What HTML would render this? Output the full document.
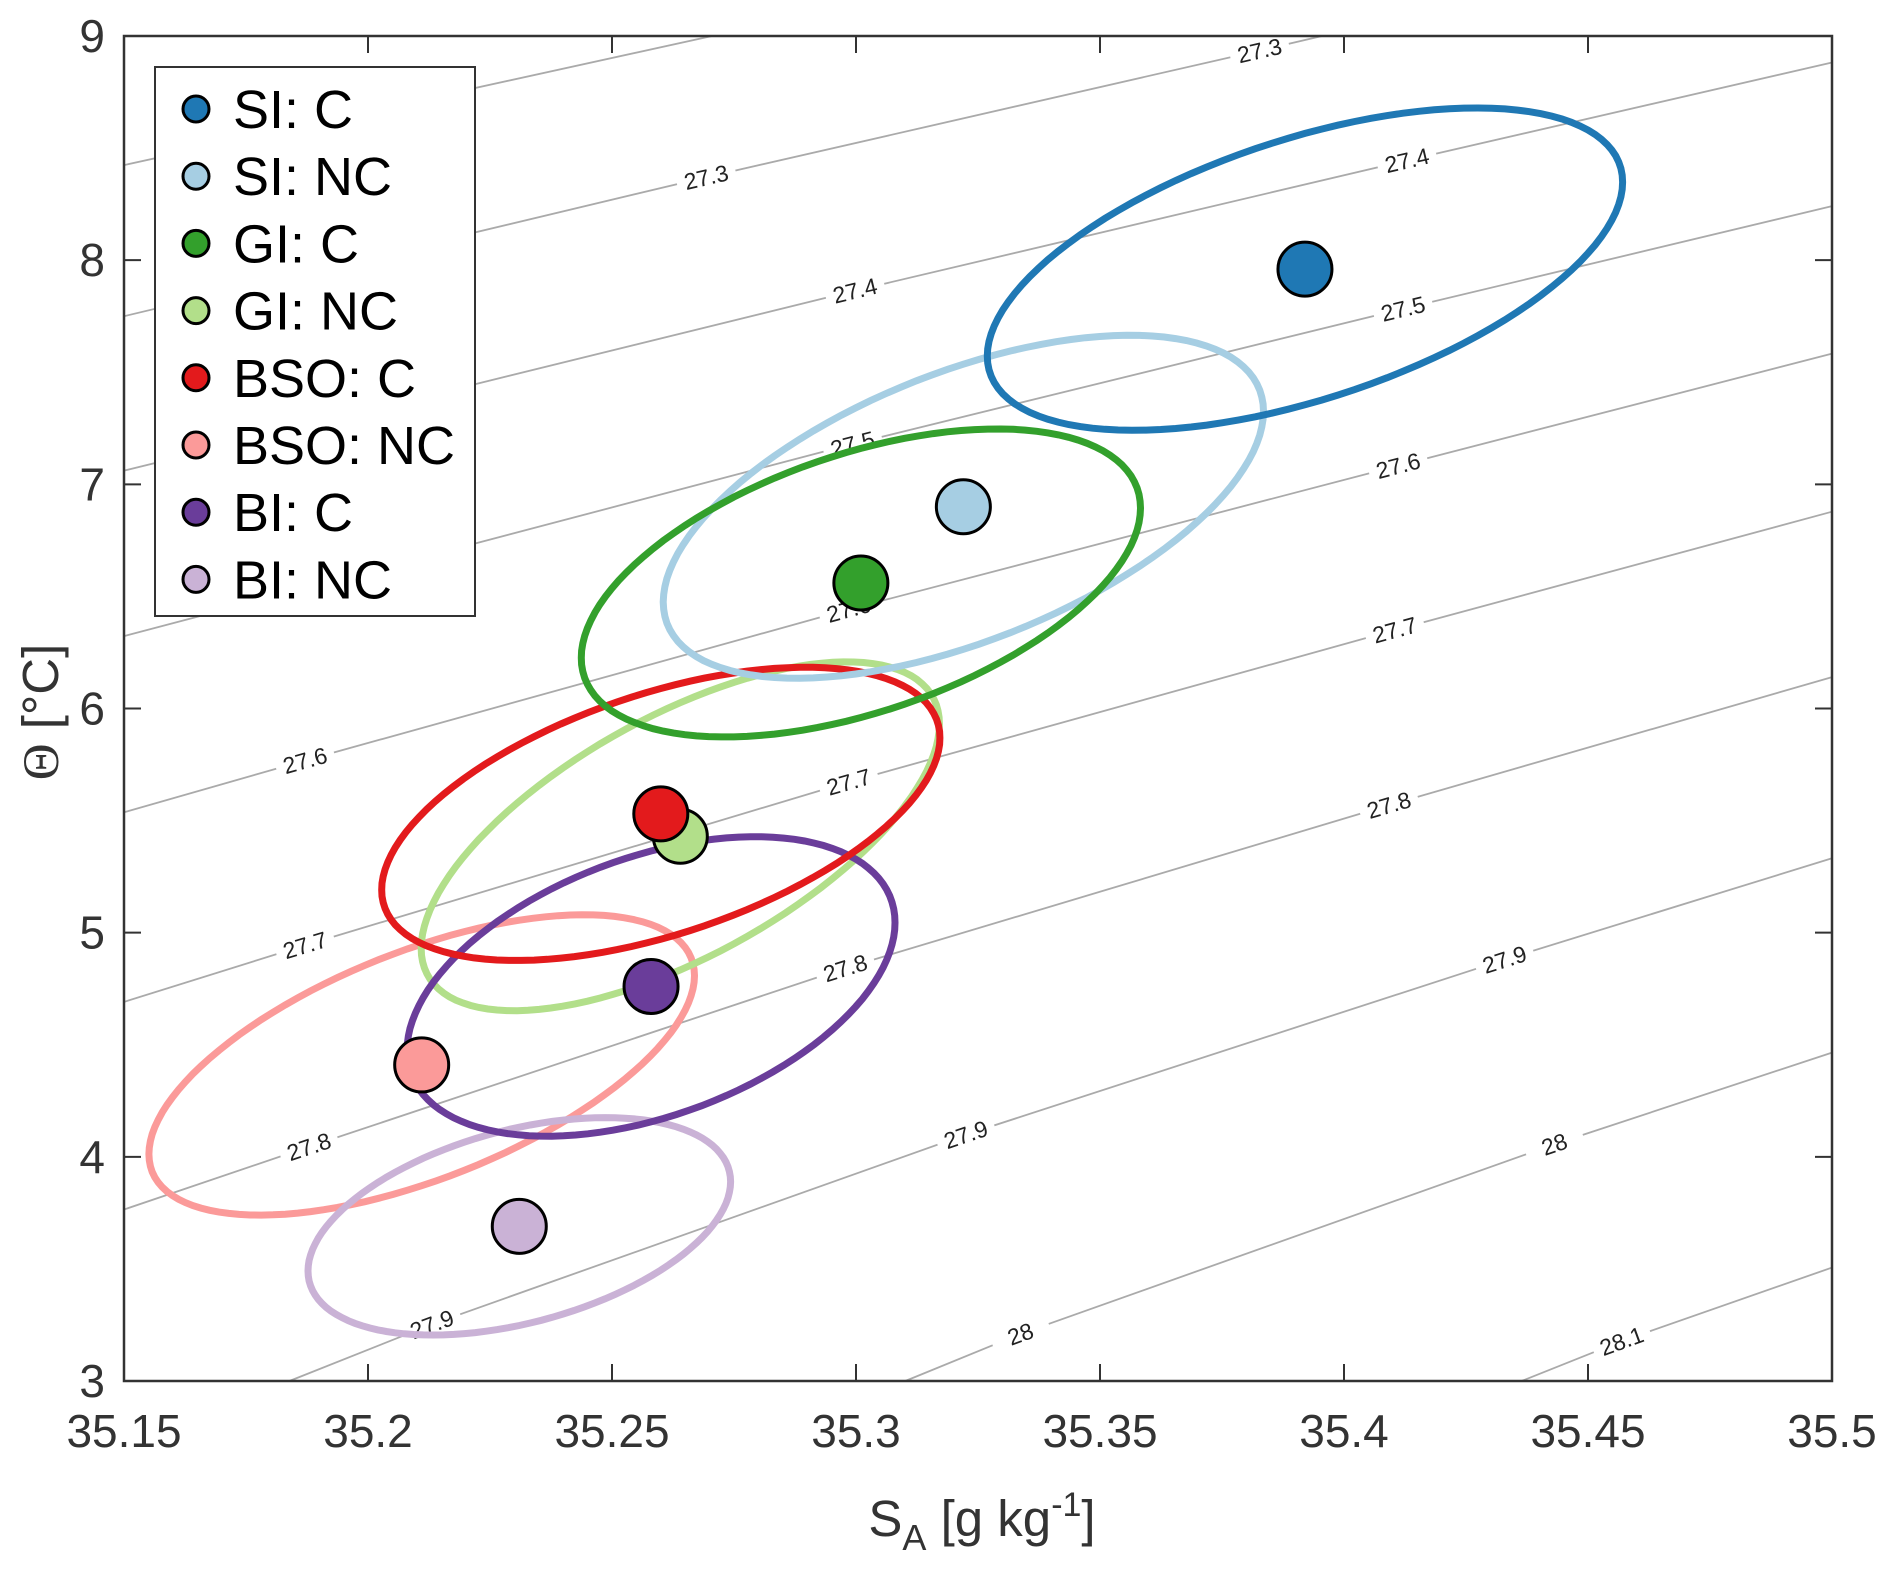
<!DOCTYPE html>
<html><head><meta charset="utf-8"><style>
html,body{margin:0;padding:0;background:#fff;}
svg{display:block;font-family:"Liberation Sans",sans-serif;}
</style></head><body>
<svg id="chart" width="1892" height="1569" viewBox="0 0 1892 1569" xmlns="http://www.w3.org/2000/svg">
<g id="contours"></g>
<g id="ellipses"></g>
<g id="points"></g>
<g id="axes"></g>
<text x="982" y="1536" font-size="51" fill="#333" text-anchor="middle">S<tspan font-size="36" dy="14">A</tspan><tspan dy="-14"> [g kg</tspan><tspan font-size="34" dy="-20">-1</tspan><tspan dy="20">]</tspan></text>
<text transform="translate(58,712) rotate(-90)" font-size="51" fill="#333" text-anchor="middle"><tspan font-family="Liberation Serif, serif">Θ</tspan> [°C]</text>
<g id="legend"></g>
</svg>
<script>
const categories = ["SI: C","SI: NC","GI: C","GI: NC","BSO: C","BSO: NC","BI: C","BI: NC"];
const colors = ["#1f78b4","#a6cee3","#33a02c","#b2df8a","#e31a1c","#fb9a99","#6a3d9a","#cab2d6"];
const salinity = [35.392,35.322,35.301,35.264,35.260,35.211,35.258,35.231];
const theta = [7.96,6.90,6.56,5.43,5.53,4.41,4.76,3.69];
const ellHalfWidth = [0.0651,0.0615,0.0573,0.0531,0.0572,0.0559,0.0500,0.0433];
const ellTiltOffset = [0.388,0.425,0.334,0.500,0.339,0.398,0.285,0.199];
const ellHalfHeight = [0.719,0.765,0.687,0.778,0.654,0.670,0.668,0.485];
const drawOrder = [5,7,3,6,4,1,2,0];
const contourLevels = ["27.2","27.3","27.4","27.5","27.6","27.7","27.8","27.9","28","28.1"];
const contourS = [
 [35.15,35.2705],
 [35.15,35.2693,35.3827,35.3955],
 [35.15,35.2998,35.4129,35.5],
 [35.15,35.2993,35.4121,35.5],
 [35.15,35.1871,35.2985,35.4111,35.5],
 [35.15,35.1871,35.2985,35.4104,35.5],
 [35.15,35.1879,35.2978,35.4092,35.5],
 [35.1839,35.2131,35.3225,35.4329,35.5],
 [35.3101,35.3337,35.4431,35.5],
 [35.4364,35.4569,35.5]];
const contourT = [
 [8.424,9.0],
 [7.75,8.37,8.935,9.0],
 [7.061,7.864,8.445,8.882],
 [6.323,7.18,7.783,8.241],
 [5.537,5.768,6.442,7.083,7.583],
 [4.691,4.944,5.672,6.35,6.878],
 [3.765,4.045,4.842,5.569,6.14],
 [3.0,3.253,4.099,4.88,5.332],
 [3.0,3.21,4.056,4.465],
 [3.0,3.178,3.506]];
const xTicks = [35.15,35.2,35.25,35.3,35.35,35.4,35.45,35.5];
const xTickLabels = ["35.15","35.2","35.25","35.3","35.35","35.4","35.45","35.5"];
const yTicks = [3,4,5,6,7,8,9];
const yTickLabels = ["3","4","5","6","7","8","9"];

const L=124,R=1832,T=36,B=1381;
const xMin=35.15,xMax=35.5,yMin=3,yMax=9;
const sx=v=>L+(v-xMin)/(xMax-xMin)*(R-L);
const sy=v=>B-(v-yMin)/(yMax-yMin)*(B-T);
const NS="http://www.w3.org/2000/svg";
function mk(tag,attrs,parent){const e=document.createElementNS(NS,tag);for(const k in attrs)e.setAttribute(k,attrs[k]);parent.appendChild(e);return e;}

const cg=document.getElementById('contours');
contourLevels.forEach((lev,i)=>{
  const pts=contourS[i].map((s,j)=>[sx(s),sy(contourT[i][j])]);
  const line=mk('polyline',{points:pts.map(p=>p.join(',')).join(' '),fill:'none',stroke:'#aaa','stroke-width':1.8},cg);
  
  
  for(let j=1;j<pts.length-1;j++){
    const a=pts[j-1],b=pts[j+1];
    const ang=Math.atan2(b[1]-a[1],b[0]-a[0])*180/Math.PI;
    const g=mk('g',{transform:`translate(${pts[j][0]},${pts[j][1]}) rotate(${ang})`},cg);
    mk('rect',{x:-30,y:-14,width:60,height:28,fill:'#fff'},g);
    const t=mk('text',{x:0,y:8,'font-size':23,fill:'#222','text-anchor':'middle'},g);
    t.textContent=lev;
    
    
  }
});

const eg=document.getElementById('ellipses');
drawOrder.forEach(i=>{
  const v=Math.sqrt(Math.max(ellHalfHeight[i]**2-ellTiltOffset[i]**2,0));
  let d='';
  for(let k=0;k<=120;k++){
    const t=k/120*2*Math.PI;
    const xs=salinity[i]+ellHalfWidth[i]*Math.cos(t);
    const ys=theta[i]+ellTiltOffset[i]*Math.cos(t)+v*Math.sin(t);
    d+=(k?'L':'M')+sx(xs).toFixed(1)+','+sy(ys).toFixed(1);
  }
  const p=mk('path',{d:d+'Z',fill:'none',stroke:colors[i],'stroke-width':7},eg);
  
  
});

const pg=document.getElementById('points');
drawOrder.forEach(i=>{
  const c=mk('circle',{cx:sx(salinity[i]),cy:sy(theta[i]),r:27,fill:colors[i],stroke:'#000','stroke-width':3},pg);
  
  
});

const ag=document.getElementById('axes');
const box=mk('rect',{x:L,y:T,width:R-L,height:B-T,fill:'none',stroke:'#333','stroke-width':2.5},ag);


xTicks.forEach((v,i)=>{
  const x=sx(v);
  mk('line',{x1:x,y1:B,x2:x,y2:B-17,stroke:'#333','stroke-width':2},ag);
  mk('line',{x1:x,y1:T,x2:x,y2:T+17,stroke:'#333','stroke-width':2},ag);
  const t=mk('text',{x:x,y:1447,'font-size':46,fill:'#333','text-anchor':'middle'},ag);
  t.textContent=xTickLabels[i];
  
  
});
yTicks.forEach((v,i)=>{
  const y=sy(v);
  mk('line',{x1:L,y1:y,x2:L+17,y2:y,stroke:'#333','stroke-width':2},ag);
  mk('line',{x1:R,y1:y,x2:R-17,y2:y,stroke:'#333','stroke-width':2},ag);
  const t=mk('text',{x:105,y:y+16,'font-size':46,fill:'#333','text-anchor':'end'},ag);
  t.textContent=yTickLabels[i];
  
  
});

const lg=document.getElementById('legend');
const lb=mk('rect',{x:155,y:67,width:320,height:549,fill:'#fff',stroke:'#333','stroke-width':2},lg);


categories.forEach((c,i)=>{
  const y=109+67.2*i;
  const g=mk('g',{},lg);
  
  
  mk('circle',{cx:196,cy:y,r:13,fill:colors[i],stroke:'#000','stroke-width':3},g);
  const t=mk('text',{x:233,y:y+19,'font-size':54,fill:'#000'},g);
  t.textContent=c;
});
</script>
</body></html>
